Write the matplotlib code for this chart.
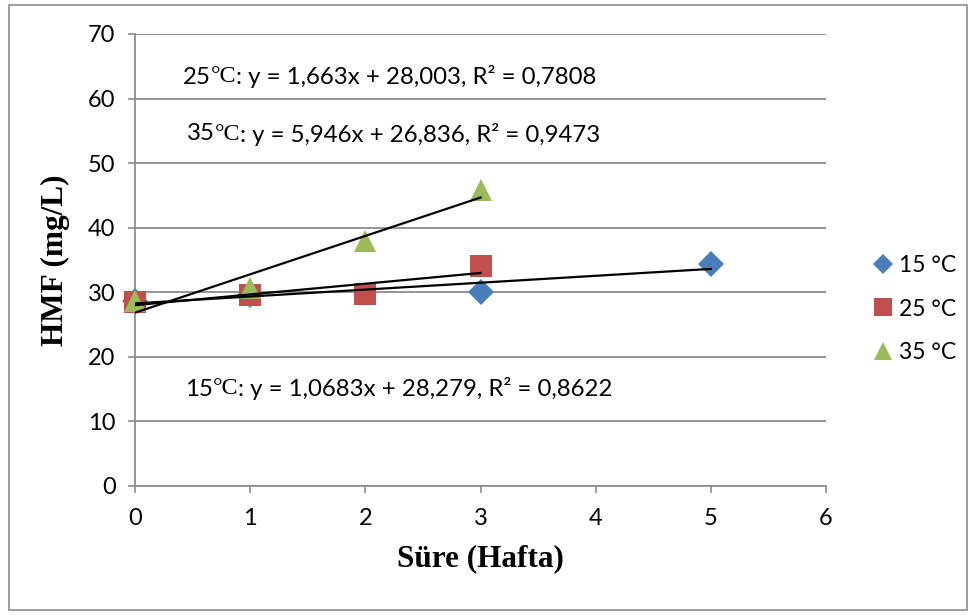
import matplotlib
matplotlib.use("Agg")
import matplotlib.pyplot as plt
from matplotlib.patches import Rectangle
import numpy as np

# Data
weeks_15 = [0, 1, 3, 5]
hmf_15 = [28.6, 29.6, 30.0, 34.4]
weeks_25 = [0, 1, 2, 3]
hmf_25 = [28.5, 29.6, 29.8, 34.1]
weeks_35 = [0, 1, 2, 3]
hmf_35 = [28.6, 30.7, 38.0, 45.8]

fit_15 = (1.0683, 28.279)
fit_25 = (1.663, 28.003)
fit_35 = (5.946, 26.836)

labels = ["15 °C", "25 °C", "35 °C"]
colors = ["#4a7ebb", "#c0504d", "#9bbb59"]
markers = ["D", "s", "^"]

eq_texts = [
    ("25", "°C", ": y = 1,663x + 28,003, R² = 0,7808"),
    ("35", "°C", ": y = 5,946x + 26,836, R² = 0,9473"),
    ("15", "°C", ": y = 1,0683x + 28,279, R² = 0,8622"),
]

W, H = 971, 615
fig = plt.figure(figsize=(W / 100, H / 100), dpi=100)
fig.patch.set_facecolor("white")

# outer chart border
fig.add_artist(Rectangle((9 / W, 5 / H), (967 - 9) / W, (610 - 5) / H,
                         transform=fig.transFigure, fill=False,
                         edgecolor="#8c8c8c", linewidth=1.2))

ax = fig.add_axes([135 / W, 1 - 486 / H, (826 - 135) / W, (486 - 34) / H])
ax.set_xlim(0, 6)
ax.set_ylim(0, 70)
ax.set_xticks(range(0, 7))
ax.set_yticks(range(0, 71, 10))
ax.yaxis.grid(True, color="#8c8c8c", linewidth=1.3)
ax.set_axisbelow(True)
for s in ["top", "right"]:
    ax.spines[s].set_visible(False)
for s in ["left", "bottom"]:
    ax.spines[s].set_color("#8c8c8c")
    ax.spines[s].set_linewidth(1.3)
ax.tick_params(axis="both", direction="out", length=5, width=1.2,
               color="#8c8c8c", labelsize=17)
ax.tick_params(axis="x", pad=11)
ax.tick_params(axis="y", pad=9)
for lab in ax.get_xticklabels() + ax.get_yticklabels():
    lab.set_fontfamily("Lato")

data = [(weeks_15, hmf_15), (weeks_25, hmf_25), (weeks_35, hmf_35)]
sizes = [13, 15.5, 16]
for (x, y), c, m, lab, ms in zip(data, colors, markers, labels, sizes):
    ax.plot(x, y, linestyle="none", marker=m, color=c, markersize=ms,
            markeredgewidth=0, label=lab, zorder=3, clip_on=False)

for (x, y), (a, b) in zip(data, [fit_15, fit_25, fit_35]):
    xs = np.array([min(x), max(x)])
    ax.plot(xs, a * xs + b, color="black", linewidth=1.6, zorder=4)

ax.set_xlabel("Süre (Hafta)", fontfamily="Liberation Serif", fontweight="bold",
              fontsize=22.5, labelpad=11)
ax.set_ylabel("HMF (mg/L)", fontfamily="Liberation Serif", fontweight="bold",
              fontsize=22.5, labelpad=13)

# equations
eq_pos = [(183, 77), (187, 134), (185, 389)]
fig.canvas.draw()
for (num, unit, rest), (px, py) in zip(eq_texts, eq_pos):
    x0 = px
    for part, fam in [(num, "Lato"), (unit, "Liberation Serif"), (rest, "Lato")]:
        t = fig.text(x0 / W, 1 - py / H, part, fontfamily=fam,
                     fontsize=17.3, va="center", ha="left")
        fig.canvas.draw()
        x0 = t.get_window_extent().x1

leg = ax.legend(loc="center left", bbox_to_anchor=(862 / W, 1 - 309 / H),
                bbox_transform=fig.transFigure, frameon=False,
                prop={"family": "Lato", "size": 16.5}, handlelength=0.8,
                handletextpad=0.3, labelspacing=1.0, borderpad=0,
                markerscale=0.8)

fig.savefig("out.png", dpi=100)
